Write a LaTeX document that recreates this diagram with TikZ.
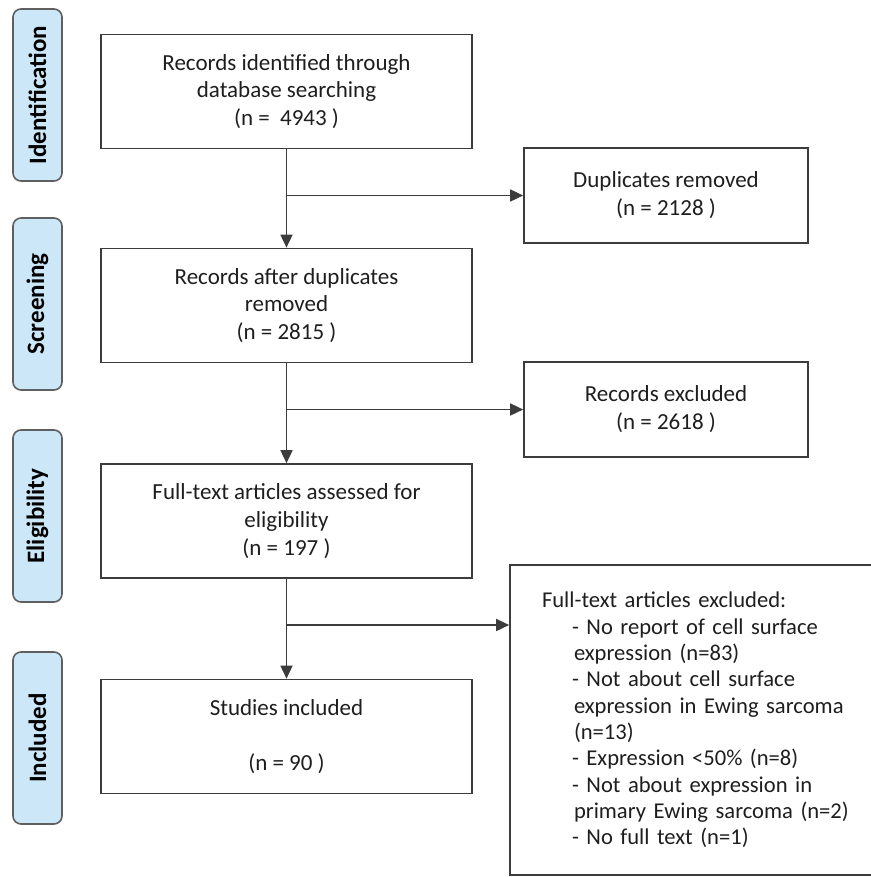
\documentclass[tikz,border=0pt]{standalone}
\usepackage{fontspec}
\setmainfont{Carlito}
\usetikzlibrary{arrows.meta}
\definecolor{stagefill}{RGB}{204,231,247}
\definecolor{stagedraw}{RGB}{95,95,95}
\definecolor{boxdraw}{RGB}{60,60,60}
\definecolor{txt}{RGB}{30,30,30}

\begin{document}
\begin{tikzpicture}[x=0.5pt, y=-0.5pt,
	stage/.style={draw=stagedraw, fill=stagefill, line width=0.8pt, rounded corners=4pt,
		rotate=90, minimum width=86pt, minimum height=24.5pt, inner sep=0pt,
		font=\fontsize{12.5}{15}\selectfont\bfseries},
	box/.style={draw=boxdraw, line width=0.85pt, align=center, text=txt, inner sep=0pt,
		font=\fontsize{11.5}{13.9}\selectfont, minimum width=185.5pt, minimum height=57pt},
	sidebox/.style={box, minimum width=142pt, minimum height=47.5pt},
	arr/.style={draw=boxdraw, line width=0.85pt, -{Triangle[length=6.5pt,width=6pt]}}]

	\useasboundingbox (0,0) rectangle (871,877);

	% stage labels
	\node[stage] (sid) at (37.5,95) {Identification};
	\node[stage] (sscr) at (37.5,304) {Screening};
	\node[stage] (selig) at (37.5,516) {Eligibility};
	\node[stage] (sincl) at (37.5,738) {Included};

	% main column
	\node[box] (ident) at (286.5,91.5) {Records identified through\\database searching\\(n =~ 4943 )};
	\node[box] (screen) at (286.5,305.5) {Records after duplicates\\removed\\(n = 2815 )};
	\node[box] (elig) at (286.5,521) {Full-text articles assessed for\\eligibility\\(n = 197 )};
	\node[box] (incl) at (286.5,736.5) {Studies included\\[13.9pt](n = 90 )};

	% excluded boxes
	\node[sidebox] (dup) at (666,195.5) {Duplicates removed\\(n = 2128 )};
	\node[sidebox] (excl) at (666,409.5) {Records excluded\\(n = 2618 )};
	\node[box, align=left, text width=153.5pt, inner xsep=9.5pt, minimum height=155pt,
		font=\fontsize{11.3}{13.15}\selectfont] (ftex) at (695.5,720)
		{Full-text articles excluded:\\
		\hspace*{15pt}- No report of cell surface\\
		\hspace*{16pt}expression (n=83)\\
		\hspace*{15pt}- Not about cell surface\\
		\hspace*{16pt}expression in Ewing sarcoma\\
		\hspace*{16pt}(n=13)\\
		\hspace*{15pt}- Expression <50\% (n=8)\\
		\hspace*{15pt}- Not about expression in\\
		\hspace*{16pt}primary Ewing sarcoma (n=2)\\
		\hspace*{15pt}- No full text (n=1)};

	% branch points
	\coordinate (b1) at (286.5,195.5);
	\coordinate (b2) at (286.5,409.5);
	\coordinate (b3) at (286.5,625);

	%draw arrows
	\draw[arr] (ident) -- (screen);
	\draw[arr] (screen) -- (elig);
	\draw[arr] (elig) -- (incl);
	\draw[arr] (b1) -- (dup.west);
	\draw[arr] (b2) -- (excl.west);
	\draw[arr] (b3) -- (b3 -| ftex.west);

\end{tikzpicture}
\end{document}
